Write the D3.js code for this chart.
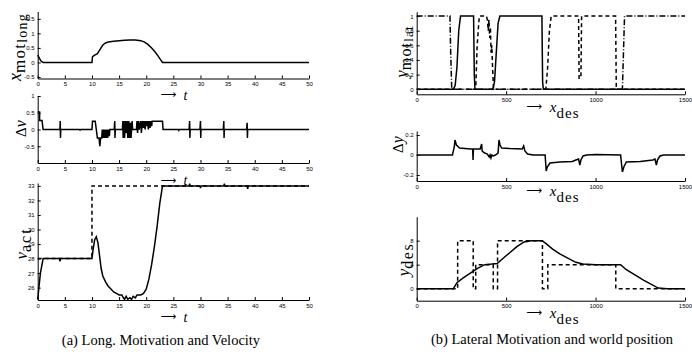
<!DOCTYPE html>
<html>
<head>
<meta charset="utf-8">
<script src="https://cdn.jsdelivr.net/npm/d3@7"></script>
<style>
  body { margin: 0; background: #fff; }
  .tick text { font-family: "Liberation Sans Narrow", "Liberation Sans", Arial, sans-serif; font-size: 6px; fill: #000; }
  .math { font-family: "Liberation Serif", "DejaVu Serif", serif; fill: #000; }
  .caption { font-family: "Liberation Serif", "DejaVu Serif", serif; font-size: 14.5px; fill: #000; }
</style>
</head>
<body>
<svg id="fig" width="692" height="356"></svg>
<script>
// ---- data ----
// left column: time t in seconds
const tTicks = [0, 5, 10, 15, 20, 25, 30, 35, 40, 45, 50]

const xMotLong = [[0, 0.25], [0.3, 0.15], [0.6, 0.05], [1, 0], [10, 0], [10.1, 0.2], [10.5, 0.25], [11, 0.3],
  [11.5, 0.45], [12, 0.6], [12.5, 0.67], [13, 0.7], [14, 0.73], [15, 0.75], [16, 0.76], [17, 0.77], [18, 0.77],
  [19, 0.75], [19.7, 0.7], [20.3, 0.62], [21, 0.5], [21.6, 0.37], [22.2, 0.22], [22.7, 0.08], [23, 0], [50, 0]]
const xMotTicks = [-0.5, 0, 0.5, 1, 1.5]

const deltaV = [[0, 0.52], [0.35, 0.52], [0.35, 0.27], [0.8, 0.27], [1, 0], [4.1, 0], [4.15, 0.25], [4.2, -0.25],
  [4.25, 0], [7.7, 0], [7.8, -0.02], [7.9, 0], [10, 0], [10.1, 0.25], [10.6, 0.25], [10.8, 0], [11, -0.25],
  [11.3, -0.25], [11.45, -0.5], [11.6, -0.25], [11.8, -0.25], [11.9, 0], [12, -0.25], [12.1, 0], [12.3, -0.25],
  [12.4, 0], [12.6, -0.25], [12.7, 0], [12.9, -0.25], [13, 0], [13.2, -0.2], [13.3, 0], [14.1, 0], [14.2, 0.25],
  [14.25, -0.25], [14.3, 0], [15.6, 0], [15.7, 0.25], [15.75, -0.25], [15.9, 0.25], [16, -0.25], [16.2, 0.25],
  [16.3, -0.1], [16.5, 0.25], [16.6, -0.25], [16.8, 0.25], [16.9, -0.25], [17.1, 0.2], [17.2, -0.25], [17.4, 0.25],
  [17.5, 0], [18.2, 0], [18.3, 0.25], [18.4, -0.1], [18.6, 0.25], [18.7, 0], [19, 0.25], [19.1, -0.1], [19.3, 0.25],
  [19.5, 0.05], [19.6, 0.25], [19.8, 0], [19.9, 0.25], [20.1, 0.1], [20.2, 0.25], [20.4, 0], [20.5, 0.25],
  [20.7, 0.05], [20.8, 0.25], [21, 0.1], [21.1, 0.25], [23, 0.25], [23.1, 0], [25.9, 0], [26, -0.03], [26.1, 0],
  [27.9, 0], [28, 0.25], [28.05, -0.25], [28.1, 0], [29.9, 0], [30, 0.25], [30.05, -0.25], [30.1, 0], [34.2, 0],
  [34.3, 0.25], [34.35, -0.25], [34.4, 0], [38.5, 0], [38.6, 0.2], [38.65, -0.25], [38.7, 0], [50, 0]]
const deltaVTicks = [-0.5, 0, 0.5, 1]

const vAct = [[0, 25.2], [0.5, 27], [1, 28], [4, 28], [4.1, 27.8], [4.2, 28], [10, 28], [10.2, 28.6], [10.5, 29.3],
  [10.8, 29.5], [11.1, 29.1], [11.4, 28.2], [11.7, 27.3], [12, 26.8], [12.5, 26.4], [13, 26.1], [13.5, 25.9],
  [14, 25.7], [14.5, 25.6], [15, 25.5], [15.5, 25.5], [15.8, 25.3], [16, 25.2], [16.3, 25.4], [16.6, 25.2],
  [17, 25.3], [17.3, 25.2], [17.6, 25.4], [18, 25.3], [18.3, 25.5], [19, 25.5], [19.5, 25.6], [20, 25.9],
  [20.5, 26.6], [21, 27.6], [21.5, 28.8], [22, 30.2], [22.5, 31.8], [23, 33], [27.9, 33], [28, 33.15], [28.1, 33],
  [29.9, 33], [30, 32.85], [30.1, 33], [34.3, 33], [34.4, 33.15], [34.5, 33], [38.6, 33], [38.7, 32.8],
  [38.8, 33], [50, 33]]
const vRef = [[0, 28], [10, 28], [10, 33], [50, 33]]
const vTicks = [26, 27, 28, 29, 30, 31, 32, 33]

// right column: travelled distance x_des
const xdTicks = [0, 500, 1000, 1500]

const latSolid = [[0, 0], [205, 0], [215, 0.05], [225, 0.3], [235, 0.8], [245, 1], [318, 1], [322, 0.2], [326, 0],
  [425, 0], [435, 0.1], [445, 0.5], [455, 0.9], [465, 1], [700, 1], [704, 0.1], [708, 0], [1500, 0]]
const latDash = [[0, 0], [330, 0], [338, 0.6], [350, 1], [390, 1], [395, 0.95], [400, 0.8], [404, 0.95], [408, 0.7],
  [412, 0.85], [416, 0.5], [420, 0.6], [424, 0.3], [430, 0], [722, 0], [732, 0.3], [742, 0.8], [752, 1], [905, 1],
  [908, 0.15], [918, 0.15], [922, 1], [1112, 1], [1116, 0], [1500, 0]]
const latDashDot = [[0, 1], [186, 1], [190, 0.5], [196, 0], [1150, 0], [1156, 0.5], [1162, 1], [1500, 1]]
const latTicks = [0, 0.2, 0.4, 0.6, 0.8, 1]

const deltaY = [[0, 0], [200, 0], [210, 0.08], [214, 0.15], [222, 0.1], [240, 0.07], [300, 0.06], [313, 0.06],
  [315, -0.05], [317, 0.06], [355, 0.06], [363, 0.11], [366, 0.04], [380, 0.02], [395, 0.01], [405, -0.02],
  [410, 0], [415, -0.03], [420, 0], [428, -0.01], [440, 0], [455, 0.02], [460, 0.15], [466, 0.1], [475, 0.07],
  [520, 0.065], [590, 0.06], [598, 0.09], [605, 0.04], [620, 0.01], [650, 0], [718, 0], [724, -0.16],
  [730, -0.12], [745, -0.08], [800, -0.07], [870, -0.065], [890, -0.05], [905, -0.04], [912, -0.1], [918, -0.05],
  [930, -0.01], [950, 0], [1000, 0.005], [1140, 0], [1150, -0.17], [1158, -0.12], [1172, -0.07], [1250, -0.065],
  [1320, -0.05], [1332, -0.04], [1340, -0.1], [1346, -0.05], [1360, -0.01], [1380, 0], [1500, 0]]
const deltaYTicks = [-0.2, 0, 0.2]

const yDes = [[0, 0], [205, 0], [225, 1], [260, 1.8], [300, 2.6], [340, 3.4], [380, 4], [420, 4.1], [450, 4.2],
  [480, 5], [520, 6], [560, 7], [600, 7.8], [640, 8], [700, 8], [720, 7.6], [760, 6.6], [800, 5.8], [850, 5],
  [890, 4.4], [930, 4.1], [1000, 4], [1140, 4], [1170, 3.2], [1220, 2.3], [1270, 1.4], [1320, 0.6], [1350, 0.1],
  [1400, 0], [1500, 0]]
const yDesRef = [[0, 0], [229, 0], [229, 8], [316, 8], [316, 0], [330, 0], [330, 4], [428, 4], [428, 0], [452, 0],
  [452, 8], [703, 8], [703, 0], [733, 0], [733, 4], [1113, 4], [1113, 0], [1500, 0]]
const yDesTicks = [0, 4, 8]

// ---- drawing ----
const svg = d3.select('#fig')

function panel(o) {
  const x = d3.scaleLinear().domain(o.xDomain).range(o.xRange)
  const y = d3.scaleLinear().domain(o.yDomain).range(o.yRange)
  const g = svg.append('g')

  g.append('g')
    .attr('transform', `translate(0,${o.yRange[0]})`)
    .call(d3.axisBottom(x).tickValues(o.xTicks).tickSizeInner(-3).tickSizeOuter(0).tickPadding(3.5).tickFormat(d => String(d)))
  g.append('g')
    .attr('transform', `translate(${o.xRange[0]},0)`)
    .call(d3.axisLeft(y).tickValues(o.yTicks).tickSizeInner(-3).tickSizeOuter(0).tickPadding(3).tickFormat(d => String(d)))

  const line = d3.line().x(d => x(d[0])).y(d => y(d[1]))
  o.series.forEach(s => {
    g.append('path')
      .datum(s.data)
      .attr('d', line)
      .attr('fill', 'none')
      .attr('stroke', '#000')
      .attr('stroke-width', 1.5)
      .attr('stroke-dasharray', s.dash || null)
  })
}

// math-ish label: parts = [text, size, baseline shift, italic, letter spacing]
function mathLabel(px, py, parts, rotate) {
  const g = svg.append('g').attr('transform', `translate(${px},${py})` + (rotate ? ' rotate(-90)' : ''))
  const t = g.append('text').attr('class', 'math').attr('text-anchor', 'middle')
  let prev = 0
  parts.forEach(p => {
    t.append('tspan')
      .attr('font-size', p[1])
      .attr('dy', p[2] - prev)
      .attr('font-style', p[3] ? 'italic' : 'normal')
      .attr('letter-spacing', p[4] || 0)
      .attr('font-family', p[0] === '⟶' ? 'DejaVu Sans, sans-serif' : null)
      .text(p[0])
    prev = p[2]
  })
}

const L = [37.7, 309]
const R = [416.7, 685]

panel({ xDomain: [0, 50], xRange: L, yDomain: [-0.55, 1.75], yRange: [78.5, 11.5], xTicks: tTicks, yTicks: xMotTicks,
  series: [{ data: xMotLong }] })
panel({ xDomain: [0, 50], xRange: L, yDomain: [-1, 1], yRange: [163, 96], xTicks: tTicks, yTicks: deltaVTicks,
  series: [{ data: deltaV }] })
panel({ xDomain: [0, 50], xRange: L, yDomain: [25.15, 33.2], yRange: [300, 183], xTicks: tTicks, yTicks: vTicks,
  series: [{ data: vRef, dash: '4,3' }, { data: vAct }] })

panel({ xDomain: [0, 1500], xRange: R, yDomain: [-0.07, 1.06], yRange: [94.3, 11.7], xTicks: xdTicks, yTicks: latTicks,
  series: [{ data: latDashDot, dash: '6,2,1,2' }, { data: latDash, dash: '4,3' }, { data: latSolid }] })
panel({ xDomain: [0, 1500], xRange: R, yDomain: [-0.26, 0.24], yRange: [181, 131], xTicks: xdTicks, yTicks: deltaYTicks,
  series: [{ data: deltaY }] })
panel({ xDomain: [0, 1500], xRange: R, yDomain: [-2, 12], yRange: [300.7, 216.7], xTicks: xdTicks, yTicks: yDesTicks,
  series: [{ data: yDesRef, dash: '4,3' }, { data: yDes }] })

// axis labels
const arrowT = [['⟶', 11, -1.5, false], ['\u2002t', 14, 0, true]]
mathLabel(174, 99.5, arrowT, false)
mathLabel(174, 185, arrowT, false)
mathLabel(174, 321.5, arrowT, false)

const arrowX = [['⟶', 11, -1, false], ['\u2002x', 15, 1, true], ['des', 15, 7, false, 1]]
mathLabel(553, 111, arrowX, false)
mathLabel(553, 194.5, arrowX, false)
mathLabel(553, 317, arrowX, false)

mathLabel(20.7, 47, [['x', 18, 0, true], ['mot', 17, 4.5, false, 1.2], ['long', 14, 6, false, 1.2]], true)
mathLabel(26, 128.5, [['Δ', 15, 0, false], ['v', 16, 0, true]], true)
mathLabel(27, 243.5, [['v', 17, 0, true], ['act', 16, 4, false, 2]], true)

mathLabel(406.5, 51.5, [['y', 17, 0, true], ['mot', 16, 4, false, 1.2], ['lat', 13, 6, false, 1.2]], true)
mathLabel(403.3, 144.5, [['Δ', 15, 0, false], ['y', 16, 0, true]], true)
mathLabel(408.5, 259.5, [['y', 17, 0, true], ['des', 16, 4.5, false, 1.5]], true)

// captions
svg.append('text').attr('class', 'caption').attr('x', 161).attr('y', 345).attr('text-anchor', 'middle')
  .text('(a) Long. Motivation and Velocity')
svg.append('text').attr('class', 'caption').attr('x', 552).attr('y', 344).attr('text-anchor', 'middle')
  .text('(b) Lateral Motivation and world position')
</script>
</body>
</html>
